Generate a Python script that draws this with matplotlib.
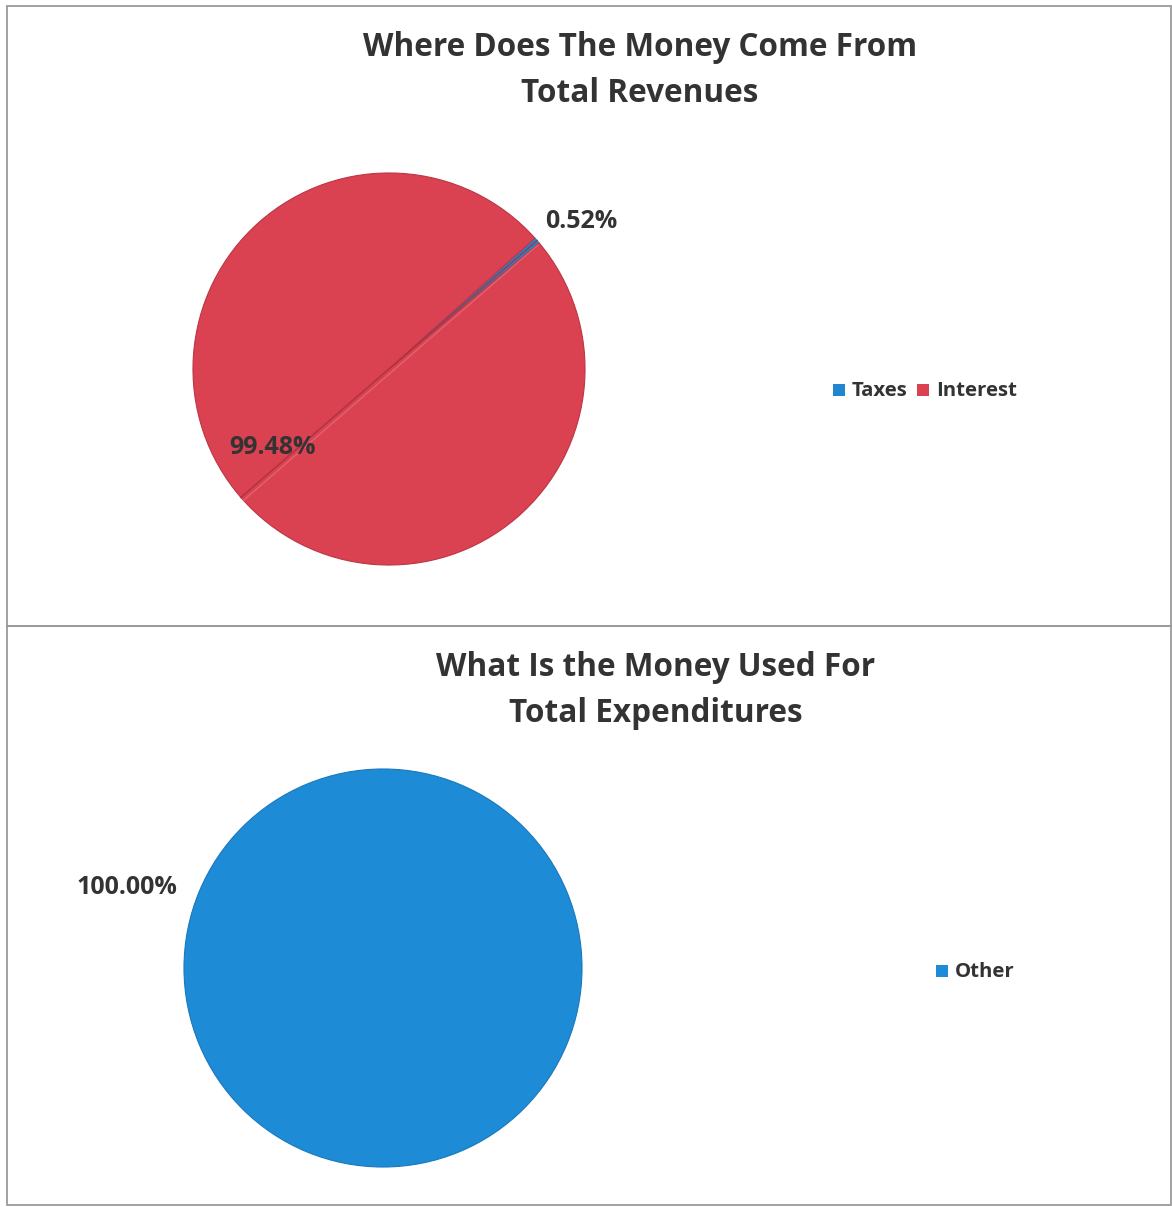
import numpy as np
import matplotlib
matplotlib.use("Agg")
import matplotlib.pyplot as plt
from matplotlib.patches import Rectangle

# Revenue breakdown
rev_categories = ["Taxes", "Interest"]
rev_values = [0.52, 99.48]
rev_colors = ["#1f86cf", "#da4151"]
rev_title = "Where Does The Money Come From\nTotal Revenues"

# Expenditure breakdown
exp_categories = ["Other"]
exp_values = [100.00]
exp_colors = ["#1e8bd6"]
exp_title = "What Is the Money Used For\nTotal Expenditures"

W, H = 1172, 1207
fig = plt.figure(figsize=(W / 100, H / 100), dpi=100)
fig.patch.set_facecolor("white")

FONT = ["Open Sans", "DejaVu Sans"]
TXT = "#333333"


def px_axes(x0, y0, x1, y1):
    """Axes placed by pixel box (top-left origin)."""
    return fig.add_axes([x0 / W, 1 - y1 / H, (x1 - x0) / W, (y1 - y0) / H])


def ftext(x, y, s, **kw):
    return fig.text(x / W, 1 - y / H, s, **kw)


# Panel frames
frame_col = "#9a9a9a"
for (x0, y0, x1, y1) in [(7, 6, 1171, 626), (7, 626, 1171, 1205)]:
    fig.patches.append(Rectangle((x0 / W, 1 - y1 / H), (x1 - x0) / W, (y1 - y0) / H,
                                 transform=fig.transFigure, fill=False,
                                 edgecolor=frame_col, linewidth=1.3))

# ---- Revenue pie ----
cx, cy, r = 389, 369, 197
ax1 = px_axes(cx - r, cy - r, cx + r, cy + r)
start = 40.0
wedges, _ = ax1.pie(rev_values, colors=rev_colors, startangle=start, counterclock=True,
                    radius=1.0, wedgeprops=dict(linewidth=0.8))
wedges[0].set_edgecolor(rev_colors[0])
wedges[1].set_edgecolor("#bb3645")
ax1.set_xlim(-1.005, 1.005)
ax1.set_ylim(-1.005, 1.005)
ax1.set_aspect("equal")
ax1.axis("off")

# Bevel crease across the pie along the small slice
theta = np.deg2rad(start + rev_values[0] * 3.6 / 2)
ax1.plot([np.cos(theta), -np.cos(theta)], [np.sin(theta), -np.sin(theta)],
         color="#a8323e", lw=1.2, alpha=0.8)
ax1.plot([0.99 * np.cos(theta) + 0.012, -np.cos(theta) + 0.012],
         [0.99 * np.sin(theta) - 0.016, -np.sin(theta) - 0.016],
         color="#e77884", lw=1.0, alpha=0.6)

title_kw = dict(ha="center", va="center", fontsize=22.7, fontweight="bold",
                color=TXT, family=FONT)
label_kw = dict(ha="center", va="center", fontsize=18, fontweight="bold",
                color=TXT, family=FONT)
legend_kw = dict(ha="left", va="center", fontsize=14.7, fontweight="bold",
                 color=TXT, family=FONT)

l1, l2 = rev_title.split("\n")
ftext(640, 48, l1, **title_kw)
ftext(640, 94, l2, **title_kw)

ftext(581, 222, f"{rev_values[0]:.2f}%", **label_kw)
ftext(272, 447, f"{rev_values[1]:.2f}%", **label_kw)

# Legend (revenues)
lx = 833
fig.canvas.draw()
for cat, col in zip(rev_categories, rev_colors):
    fig.patches.append(Rectangle((lx / W, 1 - 396 / H), 12 / W, 12 / H,
                                 transform=fig.transFigure, facecolor=col,
                                 edgecolor="none"))
    t = ftext(lx + 19, 391, cat, **legend_kw)
    bb = t.get_window_extent(renderer=fig.canvas.get_renderer())
    lx = bb.x1 + 9

# ---- Expenditure pie ----
cx2, cy2, r2 = 383, 968, 200
ax2 = px_axes(cx2 - r2, cy2 - r2, cx2 + r2, cy2 + r2)
ax2.pie(exp_values, colors=exp_colors, startangle=90, radius=1.0,
        wedgeprops=dict(edgecolor="#1a78bd", linewidth=0.8))
ax2.set_xlim(-1.005, 1.005)
ax2.set_ylim(-1.005, 1.005)
ax2.set_aspect("equal")
ax2.axis("off")

e1, e2 = exp_title.split("\n")
ftext(656, 668, e1, **title_kw)
ftext(656, 714, e2, **title_kw)

ftext(127, 888, f"{exp_values[0]:.2f}%", **label_kw)

lx = 936
for cat, col in zip(exp_categories, exp_colors):
    fig.patches.append(Rectangle((lx / W, 1 - 977 / H), 12 / W, 12 / H,
                                 transform=fig.transFigure, facecolor=col,
                                 edgecolor="none"))
    ftext(lx + 19, 972, cat, **legend_kw)

fig.savefig("out.png", dpi=100, facecolor="white")
